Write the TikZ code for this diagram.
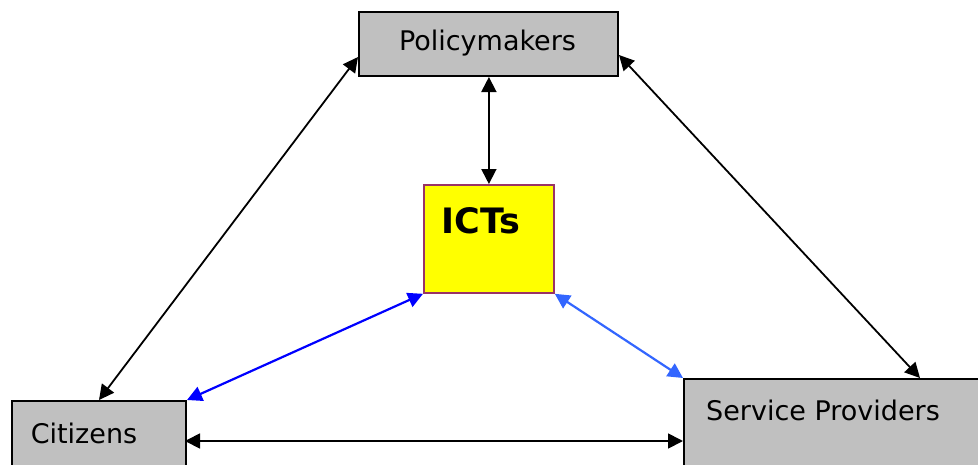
\documentclass[tikz,border=0pt]{standalone}
\usepackage{fontspec}
\setmainfont{DejaVu Sans}
\usetikzlibrary{arrows.meta}
\definecolor{boxgray}{RGB}{192,192,192}
\definecolor{ictborder}{RGB}{153,51,102}
\definecolor{ictfill}{RGB}{255,255,0}
\definecolor{darkblue}{RGB}{0,0,255}
\definecolor{lightblue}{RGB}{51,102,255}
\tikzset{
  greybox/.style={draw=black, line width=2pt, fill=boxgray, inner sep=0pt},
  lbl/.style={font=\fontsize{27}{32}\selectfont, inner sep=0pt},
  link/.style={line width=1.8pt, {Triangle[length=15pt,width=15pt]}-{Triangle[length=15pt,width=15pt]}},
}
\begin{document}
\begin{tikzpicture}[x=1pt,y=-1pt]
\useasboundingbox (0,0) rectangle (978,464);
\clip (0,0) rectangle (978,464);
% boxes
\node[greybox, minimum width=259pt, minimum height=64pt, anchor=north west] (pm) at (358,11) {};
\node[lbl] (pmt) at (487.5,43) {Policymakers};
\node[draw=ictborder, line width=1.8pt, fill=ictfill, minimum width=130pt, minimum height=108pt, anchor=north west, inner sep=0pt] (ict) at (423,184) {};
\node[inner sep=0pt, font=\fontsize{35}{40}\selectfont\bfseries] (ictt) at (481,221) {ICTs};
\node[greybox, minimum width=174pt, minimum height=80pt, anchor=north west] (cit) at (11,400) {};
\node[lbl] (citt) at (84,433) {Citizens};
\node[greybox, minimum width=320pt, minimum height=100pt, anchor=north west] (sp) at (683,378) {};
\node[lbl] (spt) at (823,410) {Service Providers};
% coordinates on box borders
\coordinate (pmL) at (358,57);
\coordinate (pmR) at (619,55);
\coordinate (citT) at (99,400);
\coordinate (spT) at (920,378);
\coordinate (citR) at (185,441);
\coordinate (spL) at (683,441);
% connectors
\draw[link] (pmL) -- (citT);
\draw[link] (pmR) -- (spT);
\draw[link] (pm.south -| ict.north) -- (ict.north);
\draw[link, draw=darkblue, fill=darkblue, line width=2.2pt] (ict.south west) -- (cit.north east);
\draw[link, draw=lightblue, fill=lightblue, line width=2.2pt] (ict.south east) -- (sp.north west);
\draw[link] (citR) -- (spL);
\end{tikzpicture}
\end{document}
